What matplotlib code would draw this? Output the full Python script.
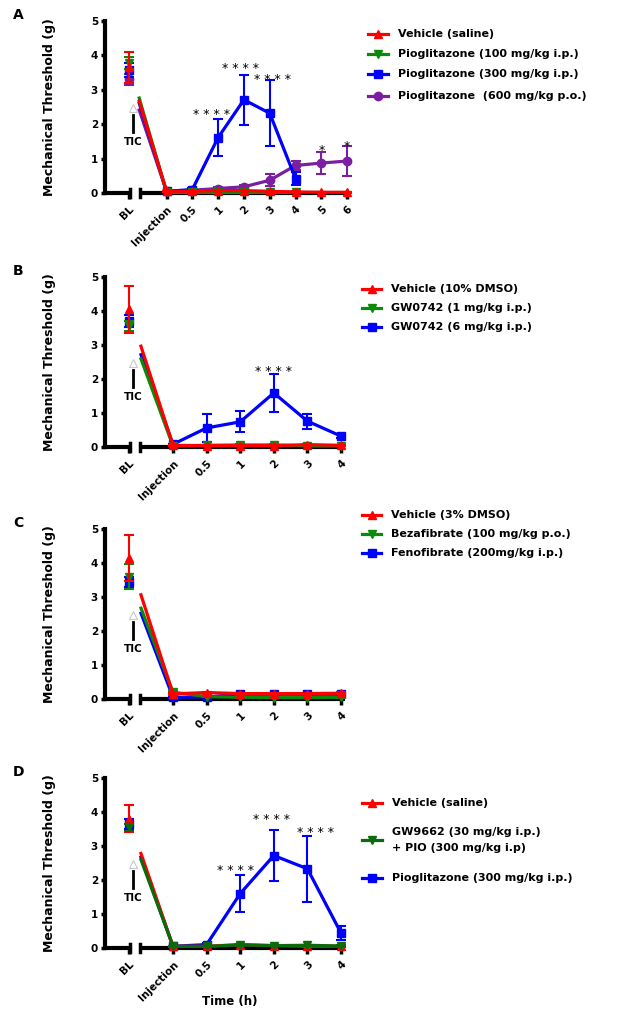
import matplotlib
matplotlib.use("Agg")
import matplotlib.pyplot as plt
from matplotlib.lines import Line2D
import numpy as np

plt.rcParams['font.family'] = ['DejaVu Sans']

W, H = 634, 1017

# ---------------- data ----------------
times_A = ["Injection", "0.5", "1", "2", "3", "4", "5", "6"]
times_B = ["Injection", "0.5", "1", "2", "3", "4"]

# panel A
a_labels = ["Vehicle (saline)", "Pioglitazone (100 mg/kg i.p.)",
            "Pioglitazone (300 mg/kg i.p.)", "Pioglitazone  (600 mg/kg p.o.)"]
a_bl = [3.65, 3.78, 3.57, 3.30]
a_bl_err = [0.45, 0.18, 0.20, 0.15]
a_veh = [0.05, 0.05, 0.07, 0.07, 0.05, 0.03, 0.02, 0.02]
a_veh_err = [0.02, 0.02, 0.02, 0.02, 0.02, 0.02, 0.01, 0.01]
a_p100 = [0.03, 0.03, 0.03, 0.03, 0.03, 0.03]
a_p100_err = [0.01, 0.01, 0.01, 0.01, 0.01, 0.01]
a_p300 = [0.05, 0.10, 1.61, 2.71, 2.32, 0.42]
a_p300_err = [0.02, 0.05, 0.54, 0.73, 0.96, 0.20]
a_p600 = [0.05, 0.08, 0.13, 0.18, 0.37, 0.80, 0.87, 0.93]
a_p600_err = [0.02, 0.03, 0.03, 0.04, 0.18, 0.13, 0.31, 0.44]
a_stars = [("1", 2.39, -7, 4), ("2", 3.74, -3, 4), ("3", 3.40, 3, 4),
           ("5", 1.33, 0, 1), ("6", 1.46, 0, 1)]

# panel B
b_labels = ["Vehicle (10% DMSO)", "GW0742 (1 mg/kg i.p.)", "GW0742 (6 mg/kg i.p.)"]
b_bl = [4.05, 3.55, 3.70]
b_bl_err = [0.70, 0.15, 0.18]
b_veh = [0.05, 0.04, 0.04, 0.04, 0.07, 0.05]
b_veh_err = [0.02, 0.02, 0.02, 0.02, 0.02, 0.02]
b_gw1 = [0.03, 0.05, 0.06, 0.06, 0.03, 0.03]
b_gw1_err = [0.01, 0.02, 0.02, 0.02, 0.01, 0.01]
b_gw6 = [0.08, 0.56, 0.74, 1.59, 0.76, 0.32]
b_gw6_err = [0.02, 0.41, 0.31, 0.55, 0.22, 0.05]
b_stars = [("2", 2.33, 0, 4)]

# panel C
c_labels = ["Vehicle (3% DMSO)", "Bezafibrate (100 mg/kg p.o.)", "Fenofibrate (200mg/kg i.p.)"]
c_bl = [4.15, 3.60, 3.45]
c_bl_err = [0.68, 0.37, 0.15]
c_veh = [0.15, 0.19, 0.16, 0.16, 0.16, 0.17]
c_veh_err = [0.03, 0.03, 0.03, 0.03, 0.03, 0.03]
c_beza = [0.20, 0.07, 0.05, 0.04, 0.04, 0.05]
c_beza_err = [0.03, 0.02, 0.02, 0.02, 0.02, 0.02]
c_feno = [0.05, 0.06, 0.14, 0.14, 0.14, 0.14]
c_feno_err = [0.02, 0.02, 0.02, 0.02, 0.02, 0.02]
c_stars = []

# panel D
d_labels = ["Vehicle (saline)", "GW9662 (30 mg/kg i.p.)\n+ PIO (300 mg/kg i.p)",
            "Pioglitazone (300 mg/kg i.p.)"]
d_bl = [3.80, 3.55, 3.65]
d_bl_err = [0.40, 0.10, 0.15]
d_veh = [0.05, 0.05, 0.10, 0.07, 0.05, 0.05]
d_veh_err = [0.02, 0.02, 0.03, 0.02, 0.02, 0.02]
d_gw = [0.05, 0.05, 0.09, 0.07, 0.08, 0.06]
d_gw_err = [0.02, 0.02, 0.03, 0.02, 0.02, 0.02]
d_pio = [0.05, 0.10, 1.60, 2.72, 2.33, 0.44]
d_pio_err = [0.02, 0.05, 0.55, 0.74, 0.97, 0.20]
d_stars = [("1", 2.39, -5, 4), ("2", 3.89, -2, 4), ("3", 3.50, 8, 4)]

RED, GREEN, BLUE, PURPLE = '#ff0000', '#0a8a0a', '#0000ff', '#7a1fa0'
DGREEN = '#0b6a0b'
TRI = 5.5

fig = plt.figure(figsize=(W / 100, H / 100), dpi=100)


def draw_series(ax, bl_x, bl, bl_err, vals, errs, color, marker, ms, z):
    xs = np.arange(len(vals))
    c1 = ax.errorbar([bl_x], [bl], yerr=[bl_err], fmt=marker, color=color, ms=ms,
                     capsize=3.5, elinewidth=1.5, capthick=1.5, zorder=z)
    c2 = ax.errorbar(xs, vals, yerr=errs, fmt='-' + marker, color=color, ms=ms, lw=2.3,
                     capsize=3.5, elinewidth=1.5, capthick=1.5, zorder=z)
    for c in (c1, c2):
        for art in c.get_children():
            art.set_clip_on(False)
    # segment coming out of the axis break towards the injection point
    f = 0.26
    x0 = bl_x + f * (0 - bl_x)
    y0 = bl + f * (vals[0] - bl)
    ax.plot([x0, 0], [y0, vals[0]], color=color, lw=2.3, zorder=z, clip_on=False,
            solid_capstyle='butt')


def draw_panel(top, bottom, right, inj_px, step, times, series, stars, letter,
               legend_rows, legend_x):
    left = 105
    ax = fig.add_axes([left / W, 1 - bottom / H, (right - left) / W, (bottom - top) / H])
    xmin = (left - inj_px) / step
    xmax = (right - inj_px) / step
    bl_x = (129 - inj_px) / step
    ax.set_xlim(xmin, xmax)
    ax.set_ylim(0, 5)
    for s in ['top', 'right', 'bottom']:
        ax.spines[s].set_visible(False)
    ax.spines['left'].set_linewidth(3)

    # broken x axis
    g1 = bl_x + 1 / step
    g2 = bl_x + 11 / step
    ax.plot([xmin, g1], [0, 0], color='k', lw=3, clip_on=False, zorder=2, solid_capstyle='butt')
    ax.plot([g2, xmax], [0, 0], color='k', lw=3, clip_on=False, zorder=2, solid_capstyle='butt')
    for g in (g1, g2):
        ax.plot([g, g], [-0.13, 0.13], color='k', lw=2.5, clip_on=False, zorder=2)

    ax.set_yticks(range(6))
    ax.set_yticklabels([str(i) for i in range(6)], fontsize=7.5, fontweight='bold')
    ax.tick_params(axis='y', length=3, width=2.5, pad=2)
    ax.set_xticks([bl_x] + list(range(len(times))))
    ax.set_xticklabels(["BL"] + times, fontsize=7.5, fontweight='bold', rotation=45,
                       ha='right', rotation_mode='anchor')
    ax.tick_params(axis='x', length=4, width=2.5, pad=4)

    for (bl, bl_err, vals, errs, color, marker, ms, z) in series:
        draw_series(ax, bl_x, bl, bl_err, vals, errs, color, marker, ms, z)

    # TIC marker
    tx = bl_x + 4 / step
    ax.plot([tx, tx], [1.77, 2.27], color='k', lw=2, clip_on=False)
    ax.plot([tx], [2.47], marker='^', ms=6, mfc='white', mec='#c8c8c8', mew=0.8, clip_on=False)
    ax.text(tx, 1.47, "TIC", ha='center', va='center', fontsize=7.5, fontweight='bold')

    for (t, yv, dx, n) in stars:
        xi = times.index(t)
        txt = " ".join(["*"] * n)
        ax.annotate(txt, (xi, yv), xytext=(dx * 0.72, -0.58 * 9), textcoords='offset points',
                    ha='center', va='baseline', fontsize=9)

    fig.text(13 / W, 1 - (top - 6) / H, letter, ha='left', va='center', fontsize=10,
             fontweight='bold')
    fig.text(50 / W, 1 - (top + bottom) / 2 / H, "Mechanical Threshold (g)", rotation=90,
             ha='center', va='center', fontsize=9, fontweight='bold')

    x0, x1, xt = legend_x
    for (yrow, label, color, marker, ms) in legend_rows:
        fy = 1 - yrow / H
        fig.add_artist(Line2D([x0 / W, x1 / W], [fy, fy], color=color, lw=2.3,
                              transform=fig.transFigure))
        fig.add_artist(Line2D([(x0 + x1) / 2 / W], [fy], marker=marker, ms=ms, color=color,
                              lw=0, transform=fig.transFigure))
        fig.text(xt / W, fy, label, ha='left', va='center', fontsize=8, fontweight='bold',
                 linespacing=1.8)
    return ax


# panel A
series_A = [
    (a_bl[3], a_bl_err[3], a_p600, a_p600_err, PURPLE, 'o', 6, 3),
    (a_bl[2], a_bl_err[2], a_p300, a_p300_err, BLUE, 's', 6, 4),
    (a_bl[1], a_bl_err[1], a_p100, a_p100_err, GREEN, 'v', TRI, 5),
    (a_bl[0], a_bl_err[0], a_veh, a_veh_err, RED, '^', TRI, 6),
]
leg_A = [(34, a_labels[0], RED, '^', TRI), (54, a_labels[1], GREEN, 'v', TRI),
         (74, a_labels[2], BLUE, 's', 6), (96, a_labels[3], PURPLE, 'o', 6)]
draw_panel(21, 193, 351, 166.5, 25.8, times_A, series_A, a_stars, "A", leg_A, (368, 388, 398))

# panel B
series_B = [
    (b_bl[2], b_bl_err[2], b_gw6, b_gw6_err, BLUE, 's', 6, 3),
    (b_bl[1], b_bl_err[1], b_gw1, b_gw1_err, GREEN, 'v', TRI, 4),
    (b_bl[0], b_bl_err[0], b_veh, b_veh_err, RED, '^', TRI, 5),
]
leg_B = [(289, b_labels[0], RED, '^', TRI), (308, b_labels[1], GREEN, 'v', TRI),
         (327, b_labels[2], BLUE, 's', 6)]
draw_panel(277, 447, 345, 173, 33.6, times_B, series_B, b_stars, "B", leg_B, (362, 381, 391))

# panel C
series_C = [
    (c_bl[2], c_bl_err[2], c_feno, c_feno_err, BLUE, 's', 6, 3),
    (c_bl[1], c_bl_err[1], c_beza, c_beza_err, GREEN, 'v', TRI, 4),
    (c_bl[0], c_bl_err[0], c_veh, c_veh_err, RED, '^', TRI, 5),
]
leg_C = [(515, c_labels[0], RED, '^', TRI), (534, c_labels[1], GREEN, 'v', TRI),
         (553, c_labels[2], BLUE, 's', 6)]
draw_panel(529, 699, 345, 173, 33.6, times_B, series_C, c_stars, "C", leg_C, (362, 381, 391))

# panel D
series_D = [
    (d_bl[2], d_bl_err[2], d_pio, d_pio_err, BLUE, 's', 6, 3),
    (d_bl[0], d_bl_err[0], d_veh, d_veh_err, RED, '^', TRI, 4),
    (d_bl[1], d_bl_err[1], d_gw, d_gw_err, DGREEN, 'v', TRI, 5),
]
leg_D = [(803, d_labels[0], RED, '^', TRI), (840, d_labels[1], DGREEN, 'v', TRI),
         (878, d_labels[2], BLUE, 's', 6)]
draw_panel(778, 948, 345, 173, 33.6, times_B, series_D, d_stars, "D", leg_D, (362, 382, 392))

fig.text(230 / W, 1 - 1002 / H, "Time (h)", ha='center', va='center', fontsize=8.5,
         fontweight='bold')

fig.savefig("out.png", dpi=100)
